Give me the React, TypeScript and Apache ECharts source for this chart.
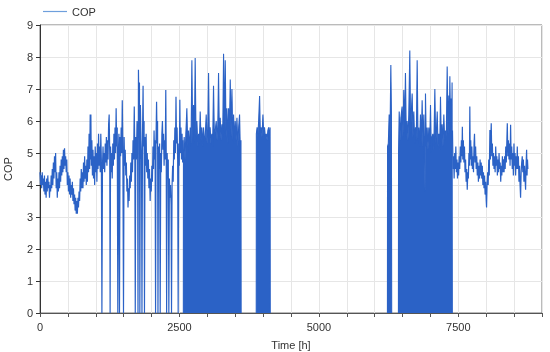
import React, { useEffect, useRef } from "react";
import * as echarts from "echarts";

const seriesName = "COP";
const xTickLabels = [0, 2500, 5000, 7500];

// Continuous part, winter/spring (hour, COP); 0 = heat pump off
const contStart: [number, number][] = [
  [0, 4.4], [10, 4.0], [20, 4.3], [30, 3.9], [40, 4.4], [50, 4.0], [60, 4.2], [70, 3.8], [80, 4.3], [90, 3.7],
  [100, 4.1], [110, 3.6], [120, 4.2], [130, 3.8], [140, 4.3], [150, 3.9], [160, 4.1], [170, 3.6], [180, 4.0], [190, 3.8],
  [200, 4.3], [210, 3.9], [220, 4.5], [230, 4.0], [240, 4.7], [250, 4.2], [260, 4.9], [270, 4.4], [280, 5.0], [290, 3.9],
  [300, 4.4], [310, 3.6], [320, 4.2], [330, 3.8], [340, 4.4], [350, 3.9], [360, 4.6], [370, 4.1], [380, 4.8], [390, 4.3],
  [400, 4.9], [410, 4.4], [420, 5.1], [430, 4.5], [440, 5.15], [450, 4.6], [460, 4.9], [470, 4.4], [480, 4.8], [490, 4.0],
  [500, 4.4], [510, 3.8], [520, 4.3], [530, 3.7], [540, 4.2], [550, 3.6], [560, 4.0], [570, 3.7], [580, 4.1], [590, 3.5],
  [600, 3.9], [610, 3.4], [620, 3.7], [630, 3.2], [640, 3.6], [650, 3.1], [660, 3.5], [670, 3.1], [680, 3.6], [690, 3.3],
  [700, 3.8], [710, 3.5], [720, 4.2], [730, 3.8], [740, 4.5], [750, 3.9], [760, 4.4], [770, 3.9], [780, 4.7], [790, 4.1],
  [800, 4.9], [810, 4.2], [820, 4.6], [830, 4.0], [840, 4.8], [850, 4.1], [860, 5.2], [870, 4.4], [880, 5.6], [890, 4.5],
  [900, 6.2], [905, 4.8], [912, 6.2], [920, 4.6], [930, 5.4], [940, 4.3], [950, 5.1], [960, 4.2], [970, 4.9], [980, 4.0],
  [990, 5.2], [1000, 4.4], [1010, 5.0], [1020, 4.1], [1030, 5.3], [1040, 4.5], [1050, 5.6], [1060, 4.6], [1070, 5.2], [1080, 4.4],
  [1090, 5.6], [1100, 4.8], [1110, 0], [1120, 4.6], [1130, 5.2], [1140, 4.5], [1150, 5.0], [1160, 4.4], [1170, 5.3], [1180, 4.7],
  [1190, 5.5], [1200, 4.6], [1210, 5.4], [1220, 4.8], [1230, 5.9], [1240, 6.2], [1250, 5.0], [1257, 0], [1265, 5.2], [1275, 4.4],
  [1285, 5.0], [1295, 4.2], [1305, 5.3], [1315, 4.6], [1325, 5.6], [1335, 4.8], [1345, 5.8], [1355, 5.0], [1365, 6.4], [1375, 5.2],
  [1385, 5.8], [1395, 0], [1405, 5.0], [1415, 5.6], [1425, 0], [1435, 5.5], [1445, 4.9], [1455, 5.8], [1465, 5.0], [1475, 6.65],
  [1485, 5.2], [1497, 0], [1508, 5.5], [1518, 4.6], [1528, 5.1], [1538, 4.3], [1548, 4.7], [1558, 3.8], [1568, 4.2], [1578, 3.3],
  [1588, 3.9], [1598, 3.5], [1608, 4.3], [1618, 3.9], [1628, 4.7], [1638, 4.1], [1648, 5.0], [1658, 4.4], [1668, 5.4], [1678, 4.8],
  [1690, 6.45], [1700, 5.0], [1708, 0], [1718, 5.5], [1728, 4.8], [1740, 6.0], [1750, 5.2], [1757, 0], [1765, 7.6], [1775, 6.2],
  [1783, 7.2], [1790, 0], [1800, 6.5], [1810, 5.4], [1820, 4.8], [1828, 0], [1838, 5.6], [1848, 7.1], [1856, 5.2], [1866, 6.0],
  [1873, 0], [1883, 5.5], [1893, 4.6], [1903, 5.6], [1913, 4.4], [1923, 5.0], [1933, 4.2], [1943, 4.8], [1953, 3.9], [1963, 4.5],
  [1975, 3.5], [1985, 4.2], [1995, 3.8], [2005, 4.6], [2015, 4.1], [2025, 5.2], [2035, 4.5], [2045, 5.7], [2055, 4.8], [2063, 5.4],
  [2072, 0], [2080, 5.4], [2090, 6.6], [2100, 5.3], [2108, 6.0], [2115, 0], [2125, 5.2], [2135, 4.5], [2145, 5.3], [2155, 0],
  [2165, 5.0], [2175, 4.4], [2185, 5.6], [2195, 6.0], [2205, 5.1], [2215, 5.6], [2225, 4.6], [2235, 5.4], [2245, 4.8], [2255, 6.97],
  [2263, 5.0], [2270, 0], [2280, 5.0], [2290, 4.2], [2300, 4.8], [2310, 0], [2320, 4.2], [2330, 3.6], [2340, 4.0], [2350, 3.4],
  [2358, 0], [2368, 4.0], [2378, 4.6], [2388, 4.1], [2398, 5.4], [2408, 4.8], [2418, 5.8], [2428, 5.0], [2438, 6.76], [2448, 5.3],
  [2458, 5.8], [2468, 4.8], [2477, 0], [2487, 5.3], [2497, 4.6], [2507, 6.66], [2517, 5.0], [2527, 5.8], [2537, 4.8], [2547, 5.6],
  [2557, 4.7], [2565, 5.4],
];

// Continuous part, autumn/winter
const contEnd: [number, number][] = [
  [7395, 5.7], [7405, 4.5], [7415, 4.9], [7425, 4.2], [7435, 5.0], [7445, 4.5], [7455, 5.2], [7465, 4.4], [7475, 4.8], [7485, 4.2],
  [7495, 4.7], [7505, 4.3], [7515, 4.9], [7525, 4.5], [7535, 5.2], [7545, 4.7], [7555, 5.4], [7565, 4.9], [7572, 5.82], [7580, 4.8],
  [7590, 5.4], [7600, 4.7], [7610, 5.2], [7620, 4.4], [7630, 4.8], [7640, 4.1], [7650, 4.5], [7660, 3.85], [7670, 4.4], [7680, 4.2],
  [7690, 5.0], [7698, 4.6], [7706, 6.45], [7714, 4.8], [7722, 5.4], [7732, 4.6], [7742, 5.2], [7752, 4.5], [7762, 4.9], [7772, 4.4],
  [7782, 5.3], [7790, 5.6], [7800, 4.7], [7810, 5.2], [7820, 4.5], [7830, 4.9], [7840, 4.3], [7850, 4.7], [7860, 4.1], [7870, 4.6],
  [7880, 4.2], [7890, 4.8], [7900, 4.3], [7910, 4.7], [7920, 4.2], [7930, 4.6], [7940, 4.0], [7950, 4.4], [7960, 3.9], [7970, 4.3],
  [7980, 3.7], [7990, 4.1], [8000, 3.5], [8006, 3.3], [8015, 4.0], [8025, 4.4], [8035, 4.0], [8045, 4.8], [8055, 4.3], [8066, 5.72],
  [8075, 4.8], [8083, 5.5], [8090, 5.93], [8100, 4.9], [8110, 5.3], [8120, 4.6], [8130, 5.0], [8140, 4.5], [8150, 4.9], [8160, 4.4],
  [8170, 5.2], [8180, 4.6], [8190, 4.9], [8200, 4.3], [8210, 4.8], [8220, 4.4], [8230, 5.0], [8240, 4.5], [8250, 4.7], [8260, 4.1],
  [8270, 4.6], [8280, 4.3], [8290, 4.9], [8300, 4.4], [8310, 4.8], [8320, 4.4], [8330, 4.9], [8340, 4.5], [8350, 5.2], [8360, 4.7],
  [8370, 5.4], [8378, 5.93], [8388, 4.9], [8398, 5.4], [8408, 4.8], [8418, 5.3], [8428, 4.6], [8437, 5.88], [8447, 4.8], [8457, 5.2],
  [8467, 4.5], [8477, 5.0], [8487, 4.3], [8497, 5.3], [8507, 4.6], [8517, 5.0], [8527, 4.3], [8537, 4.9], [8547, 4.5], [8557, 5.2],
  [8567, 4.5], [8577, 4.9], [8587, 4.1], [8597, 4.6], [8607, 4.0], [8616, 3.6], [8626, 4.4], [8636, 4.7], [8646, 4.9], [8656, 4.4],
  [8666, 4.8], [8676, 4.1], [8686, 4.6], [8696, 4.2], [8706, 3.85], [8714, 4.6], [8724, 5.1], [8732, 4.3], [8740, 4.8], [8747, 4.5],
];

// On/off cycling blocks (upper envelope of the hourly oscillation down to 0)
const block1: [number, number][] = [
  [2570, 0], [2572, 5.0], [2585, 5.5], [2600, 4.8], [2615, 5.6], [2633, 6.4], [2648, 5.2], [2663, 5.7],
  [2678, 5.0], [2693, 5.8], [2708, 5.3], [2723, 7.9], [2738, 5.4], [2753, 6.5], [2768, 5.3], [2782, 7.97],
  [2797, 5.5], [2813, 6.0], [2828, 5.2], [2843, 5.6], [2858, 5.3], [2872, 6.3], [2887, 5.4], [2902, 5.8],
  [2917, 5.2], [2932, 5.8], [2947, 5.4], [2962, 5.5], [2980, 6.2], [2995, 5.3], [3008, 5.7], [3022, 7.5],
  [3036, 5.4], [3050, 5.8], [3064, 5.3], [3080, 5.6], [3095, 5.2], [3111, 7.1], [3126, 5.5], [3142, 5.7],
  [3159, 6.0], [3174, 5.4], [3188, 5.9], [3201, 7.5], [3216, 5.5], [3231, 6.1], [3246, 5.4], [3261, 5.9],
  [3276, 5.5], [3291, 8.1], [3306, 5.6], [3321, 7.9], [3336, 5.5], [3351, 6.4], [3366, 5.3], [3381, 6.4],
  [3396, 5.6], [3411, 7.3], [3426, 5.5], [3441, 7.0], [3456, 5.4], [3471, 6.2], [3486, 5.3], [3500, 6.0],
  [3515, 5.4], [3531, 6.1], [3546, 5.2], [3562, 5.8], [3578, 6.2], [3592, 5.0], [3603, 5.4], [3606, 0],
];
const block2: [number, number][] = [
  [3877, 0], [3879, 5.6], [3892, 5.8], [3905, 5.5], [3920, 6.0], [3937, 6.78], [3950, 5.6], [3965, 5.8],
  [3980, 5.5], [3997, 6.2], [4010, 5.6], [4025, 5.8], [4040, 5.5], [4057, 5.6], [4072, 5.4], [4085, 5.7],
  [4099, 5.8], [4112, 5.4], [4125, 5.8], [4128, 0],
];
const block3: [number, number][] = [
  [6229, 0], [6231, 5.2], [6245, 5.3], [6260, 6.2], [6275, 5.5], [6290, 7.75], [6300, 6.3], [6305, 0],
];
const block4: [number, number][] = [
  [6426, 0], [6428, 5.0], [6440, 6.3], [6455, 5.4], [6470, 6.1], [6492, 6.45], [6507, 5.5], [6522, 6.97],
  [6537, 5.6], [6552, 7.5], [6567, 5.5], [6582, 6.0], [6597, 5.4], [6612, 6.2], [6630, 8.2], [6645, 5.6],
  [6658, 6.3], [6672, 6.86], [6687, 5.5], [6702, 6.3], [6717, 5.3], [6732, 5.8], [6747, 5.4], [6762, 7.9],
  [6777, 5.4], [6791, 5.8], [6806, 5.2], [6821, 6.2], [6836, 5.3], [6851, 6.65], [6866, 5.2], [6881, 6.2],
  [6896, 4.6], [6903, 3.8], [6911, 6.86], [6926, 5.2], [6941, 5.8], [6956, 5.1], [6971, 5.8], [6986, 5.2],
  [7001, 6.5], [7016, 5.0], [7030, 5.5], [7043, 5.6], [7060, 5.1], [7079, 7.0], [7094, 5.3], [7108, 5.7],
  [7121, 6.3], [7136, 5.2], [7151, 5.6], [7166, 5.1], [7180, 6.76], [7195, 5.3], [7210, 5.9], [7225, 5.2],
  [7240, 6.2], [7255, 5.4], [7270, 5.7], [7285, 5.5], [7300, 7.7], [7315, 5.6], [7330, 6.8], [7340, 5.7],
  [7348, 7.4], [7360, 5.8], [7372, 6.7], [7382, 5.9], [7388, 7.2], [7392, 0],
];

export default function App() {
  const ref = useRef<HTMLDivElement>(null);
  useEffect(() => {
    const chart = echarts.init(ref.current!, null, { renderer: "svg" });
    const BLUE = "#2b62c6";
    const TXT = "#333333";
    const lineData: any[] = [...contStart, [5000, null], ...contEnd];
    const blockData: any[] = [
      ...block1, [3700, null], ...block2, [5000, null], ...block3, [6360, null], ...block4,
    ];
    chart.setOption({
      animation: false,
      textStyle: { fontFamily: "'Liberation Sans', Arial, sans-serif" },
      legend: {
        left: 38,
        top: 1,
        itemWidth: 24,
        itemHeight: 14,
        itemGap: 10,
        textStyle: { fontSize: 11, color: TXT },
        data: [{ name: seriesName, icon: "path://M0,6 L24,6 L24,7.2 L0,7.2 Z" }],
        itemStyle: { color: "#6e9fdc" },
      },
      grid: {
        left: 40,
        right: 8,
        top: 25,
        bottom: 39,
        containLabel: false,
        outerBoundsMode: "none",
        show: true,
        borderColor: "#777777",
        borderWidth: 1,
      },
      xAxis: {
        type: "value",
        min: 0,
        max: 9000,
        interval: 500,
        name: "Time [h]",
        nameLocation: "middle",
        nameGap: 26,
        nameTextStyle: { fontSize: 11, color: TXT },
        axisLine: { show: true, lineStyle: { color: "#555555" } },
        axisTick: { show: true, length: 4, lineStyle: { color: "#555555" } },
        axisLabel: {
          fontSize: 11,
          color: TXT,
          margin: 8,
          formatter: (v: number) => (xTickLabels.includes(v) ? String(v) : ""),
        },
        splitLine: { show: true, lineStyle: { color: "#e6e6e6" } },
      },
      yAxis: {
        type: "value",
        min: 0,
        max: 9,
        interval: 1,
        name: "COP",
        nameLocation: "middle",
        nameGap: 27,
        nameTextStyle: { fontSize: 11, color: TXT },
        axisLine: { show: true, lineStyle: { color: "#333333" } },
        axisTick: { show: true, length: 4, lineStyle: { color: "#333333" } },
        axisLabel: { fontSize: 11, color: TXT, margin: 7 },
        splitLine: { show: true, lineStyle: { color: "#e6e6e6" } },
      },
      series: [
        {
          name: seriesName,
          type: "line",
          data: lineData,
          symbol: "none",
          connectNulls: false,
          lineStyle: { color: BLUE, width: 1.2 },
          itemStyle: { color: BLUE },
        },
        {
          name: seriesName,
          type: "line",
          data: blockData,
          symbol: "none",
          connectNulls: false,
          lineStyle: { color: BLUE, width: 1.1 },
          itemStyle: { color: BLUE },
          areaStyle: { color: BLUE, opacity: 1 },
        },
      ],
    });
    return () => chart.dispose();
  }, []);
  return (
    <div
      ref={ref}
      style={{ position: "fixed", left: 0, top: 0, width: 550, height: 352 }}
    />
  );
}
